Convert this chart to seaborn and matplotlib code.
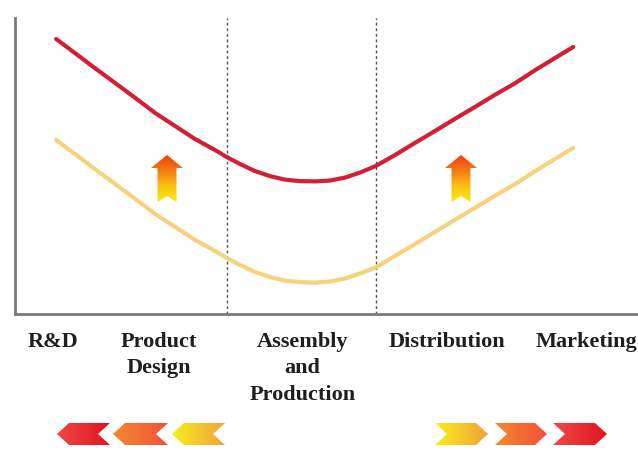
import numpy as np
import matplotlib
matplotlib.use("Agg")
import matplotlib.pyplot as plt
from matplotlib.patches import Polygon
from matplotlib.colors import LinearSegmentedColormap
import pandas as pd
import seaborn as sns

# Position along the value chain (0-100) and value added (0-100)
chain_pos = [6.6, 9.6, 12.8, 16.1, 19.3, 22.5, 25.7, 28.9, 32.1, 34.0,
             36.1, 38.5, 40.9, 43.3, 45.7, 48.2, 50.6, 53.0, 55.4, 57.9,
             61.0, 64.2, 67.4, 70.6, 73.8, 77.0, 80.3, 83.5, 86.7, 89.6]
value_now = [92.9, 88.2, 83.1, 78.0, 73.0, 67.9, 63.5, 59.1, 55.4, 53.0,
             50.7, 48.3, 46.6, 45.4, 44.9, 44.8, 45.1, 46.1, 47.8, 50.0,
             53.7, 57.8, 61.8, 65.9, 69.9, 74.0, 78.0, 82.4, 86.5, 90.2]
value_before = [58.8, 54.1, 49.0, 43.9, 38.9, 33.8, 29.4, 25.0, 21.3, 18.9,
                16.6, 14.2, 12.5, 11.3, 10.8, 10.6, 11.0, 12.0, 13.7, 15.7,
                19.6, 23.6, 27.7, 31.8, 35.8, 39.9, 43.9, 48.3, 52.4, 56.1]

stage_labels = ["R&D", "Product\nDesign", "Assembly\nand\nProduction",
                "Distribution", "Marketing"]
stage_pos = [6.1, 23.1, 46.1, 69.3, 91.8]
segment_edges = [34.0, 57.9]

sns.set_theme(style="white")
plt.rcParams["font.family"] = ["Liberation Serif", "DejaVu Serif"]

W, H = 638, 454
fig = plt.figure(figsize=(W / 100, H / 100), dpi=100)
fig.patch.set_facecolor("white")
ax = fig.add_axes([15 / W, 140 / H, 623 / W, 296 / H])

curves = pd.DataFrame({"pos": chain_pos, "now": value_now, "before": value_before})
sns.lineplot(data=curves, x="pos", y="before", color="#f6d27f", lw=3,
             solid_joinstyle="round", ax=ax)
sns.lineplot(data=curves, x="pos", y="now", color="#d21f36", lw=3,
             solid_joinstyle="round", ax=ax)

for edge in segment_edges:
    ax.axvline(edge, color="#505050", lw=1.0, ls=(0, (2, 2)), zorder=1)

ax.set_xlim(0, 100)
ax.set_ylim(0, 100)
ax.set_xlabel("")
ax.set_ylabel("")
ax.set_yticks([])
ax.set_xticks(stage_pos, stage_labels, fontsize=16, fontweight="bold",
              color="#1e1e1e")
for lbl in ax.get_xticklabels():
    lbl.set_linespacing(1.42)
ax.set_xticks(segment_edges, minor=True)
ax.tick_params(axis="x", which="major", length=0, pad=13)
ax.tick_params(axis="x", which="minor", length=5, direction="inout",
               color="#707070", width=1)
for side in ("top", "right"):
    ax.spines[side].set_visible(False)
for side in ("left", "bottom"):
    ax.spines[side].set_color("#7a7a7a")
    ax.spines[side].set_linewidth(2)

# Decoration layer in pixel units
deco = fig.add_axes([0, 0, 1, 1], zorder=5)
deco.set_axis_off()
deco.patch.set_visible(False)


def gradient_fill(axis, verts, colors, vertical):
    poly = Polygon(verts, closed=True, fc="none", ec="none")
    axis.add_patch(poly)
    xs = [v[0] for v in verts]
    ys = [v[1] for v in verts]
    ramp = np.linspace(0, 1, 256)
    img = ramp[:, None] if vertical else ramp[None, :]
    cmap = LinearSegmentedColormap.from_list("ramp", colors)
    im = axis.imshow(img, cmap=cmap, origin="lower", aspect="auto",
                     extent=(min(xs), max(xs), max(ys), min(ys)),
                     interpolation="bicubic")
    im.set_clip_path(poly)


def up_arrow(cx):
    return [(cx, 155), (cx + 16, 168), (cx + 9.5, 168), (cx + 9.5, 202),
            (cx, 196), (cx - 9.5, 202), (cx - 9.5, 168), (cx - 16, 168)]


arrow_colors = ["#f8ec12", "#fbc214", "#f57a14", "#ec4012"]
for cx in (167, 461):
    gradient_fill(deco, up_arrow(cx), arrow_colors, vertical=True)


def chevron(x0, x1, top=423, bottom=445, depth=12, left=True):
    mid = (top + bottom) / 2
    if left:
        return [(x0, mid), (x0 + depth, top), (x1, top), (x1 - depth, mid),
                (x1, bottom), (x0 + depth, bottom)]
    return [(x0, top), (x1 - depth, top), (x1, mid), (x1 - depth, bottom),
            (x0, bottom), (x0 + depth, mid)]


red_ramp = ["#f0484a", "#e0141e"]
orange_ramp = ["#f28a2e", "#f4503a"]
yellow_ramp = ["#f8ee1c", "#f0a23a"]

for (x0, x1), ramp in zip([(57, 110), (113, 168), (172, 225)],
                          [red_ramp, orange_ramp, yellow_ramp]):
    gradient_fill(deco, chevron(x0, x1, left=True), ramp, vertical=False)
for (x0, x1), ramp in zip([(435, 488), (495, 547), (553, 607)],
                          [yellow_ramp, orange_ramp, red_ramp]):
    gradient_fill(deco, chevron(x0, x1, left=False), ramp, vertical=False)

deco.set_xlim(0, W)
deco.set_ylim(H, 0)

fig.savefig("out.png", dpi=100)
